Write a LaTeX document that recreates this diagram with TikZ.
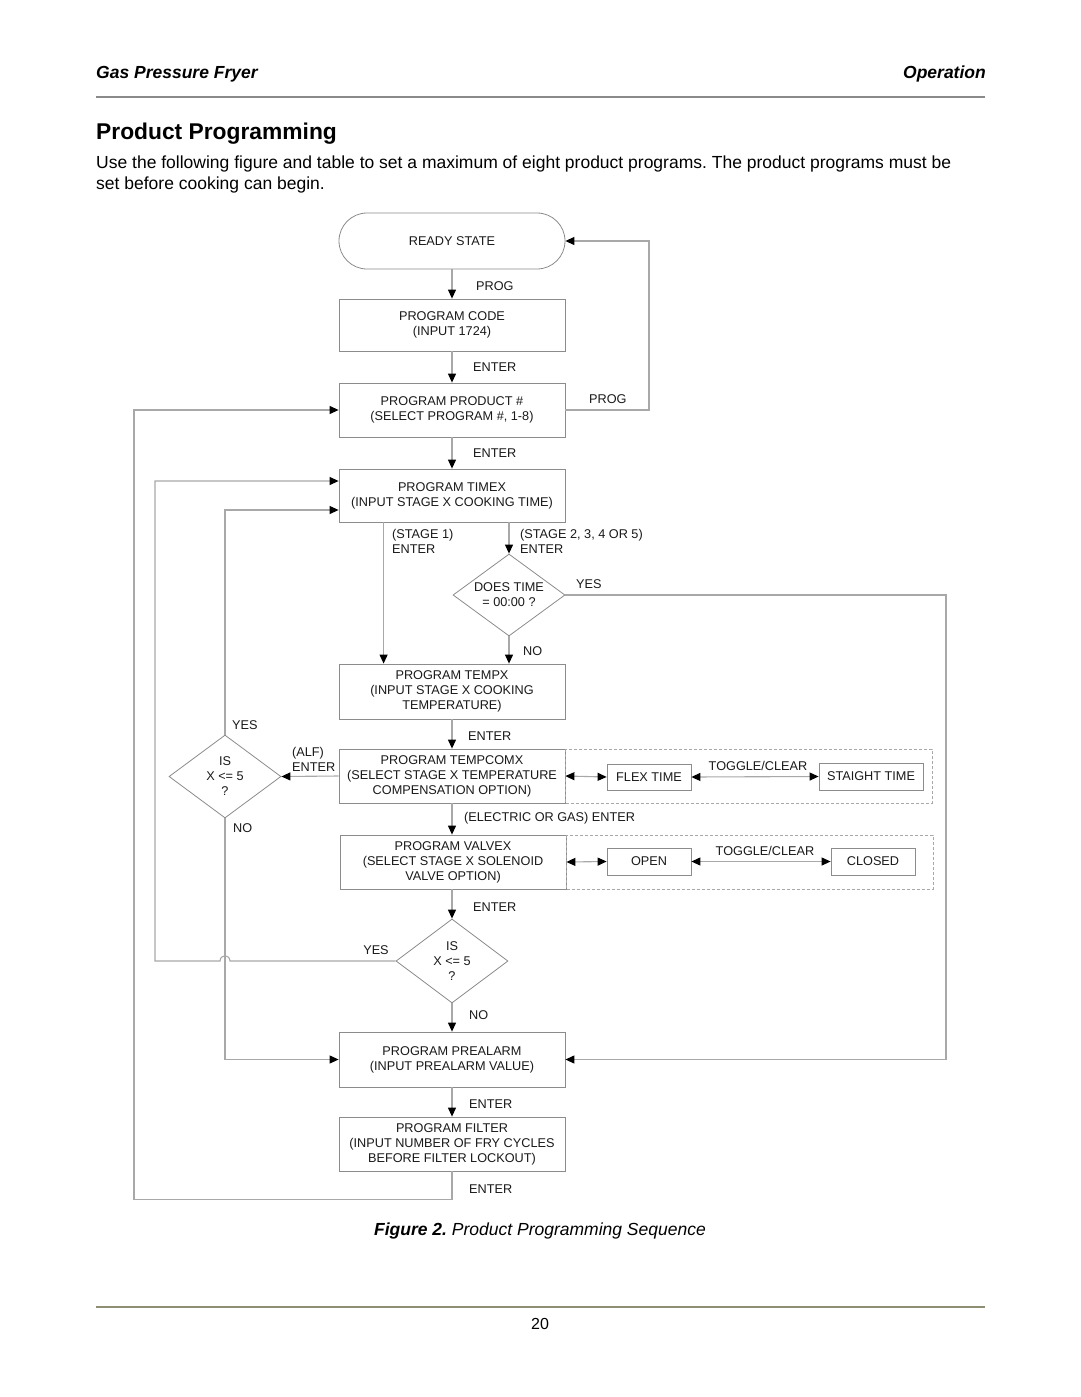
\documentclass[tikz,border=0pt]{standalone}
\usepackage{fontspec}
\setmainfont{Liberation Sans}
\usetikzlibrary{arrows.meta,shapes.geometric,calc}
\definecolor{ln}{HTML}{A8A8A8}
\definecolor{boxgray}{HTML}{8C8C8C}
\definecolor{txt}{HTML}{1A1A1A}
\definecolor{rulegray}{HTML}{8A8A8A}
\definecolor{ruleolive}{HTML}{8E8E72}
\newcommand\flowfont{\fontsize{12.7}{15}\selectfont}
\frenchspacing
\begin{document}
\begin{tikzpicture}[x=1pt,y=-1pt,
  box/.style={draw=boxgray,line width=0.8pt,minimum width=226pt,inner sep=0pt,align=center,font=\flowfont,text=txt},
  smallbox/.style={draw=boxgray,line width=0.8pt,inner sep=0pt,align=center,font=\flowfont,text=txt},
  decision/.style={diamond,draw=boxgray,line width=0.8pt,minimum width=112pt,inner sep=0pt,aspect=1.37,align=center,font=\flowfont,text=txt},
  lbl/.style={font=\flowfont,text=txt,inner sep=0pt,anchor=west,align=left},
  lblc/.style={font=\flowfont,text=txt,inner sep=0pt,align=center},
  conn/.style={draw=ln,line width=1.1pt},
  arr/.style={conn,-{Triangle[length=9pt,width=8pt,color=black]}},
  darr/.style={conn,{Triangle[length=9pt,width=8pt,color=black]}-{Triangle[length=9pt,width=8pt,color=black]}},
  dashbox/.style={draw=ln,line width=0.7pt,dash pattern=on 3pt off 2pt}
]
\useasboundingbox (0,0) rectangle (1080,1397);
\fill[white] (0,0) rectangle (1080,1397);

% header
\node[anchor=west,inner sep=0pt,font=\fontsize{17.5}{20}\selectfont\bfseries\itshape,text=black] (hleft) at (96,74) {Gas Pressure Fryer};
\node[anchor=east,inner sep=0pt,font=\fontsize{17.5}{20}\selectfont\bfseries\itshape,text=black] (hright) at (986,74) {Operation};
\draw[rulegray,line width=2.5pt] (96,97) -- (985,97);
\node[anchor=west,inner sep=0pt,font=\fontsize{22.8}{26}\selectfont\bfseries,text=black] (title) at (96,134) {Product Programming};
\node[anchor=base west,inner sep=0pt,font=\fontsize{17.5}{21}\selectfont,text=black] (body1) at (96,168) {Use the following figure and table to set a maximum of eight product programs. The product programs must be};
\node[anchor=base west,inner sep=0pt,font=\fontsize{17.5}{21}\selectfont,text=black] (body2) at (96,189) {set before cooking can begin.};

% main boxes
\node[box,rounded corners=28pt,minimum height=56pt] (ready) at (452,241) {READY STATE};
\node[box,minimum height=52pt] (code) at (452,325) {PROGRAM CODE\\(INPUT 1724)};
\node[box,minimum height=54pt] (product) at (452,410) {PROGRAM PRODUCT \#\\(SELECT PROGRAM \#, 1-8)};
\node[box,minimum height=53pt] (timex) at (452,495.5) {PROGRAM TIMEX\\(INPUT STAGE X COOKING TIME)};
\node[decision,minimum height=82pt] (dt) at (509,595) {DOES TIME\\= 00:00 ?};
\node[box,minimum height=55pt] (tempx) at (452,691.5) {PROGRAM TEMPX\\(INPUT STAGE X COOKING\\TEMPERATURE)};
\node[box,minimum height=54pt] (tempcomx) at (452,776) {PROGRAM TEMPCOMX\\(SELECT STAGE X TEMPERATURE\\COMPENSATION OPTION)};
\node[decision,minimum height=83pt] (isa) at (225,776.5) {IS\\X <= 5\\?};
\node[box,minimum height=54pt] (valvex) at (453,862) {PROGRAM VALVEX\\(SELECT STAGE X SOLENOID\\VALVE OPTION)};
\node[decision,minimum height=84pt] (isb) at (452,961) {IS\\X <= 5\\?};
\node[box,minimum height=55pt] (prealarm) at (452,1059.5) {PROGRAM PREALARM\\(INPUT PREALARM VALUE)};
\node[box,minimum height=54pt] (filter) at (452,1144) {PROGRAM FILTER\\(INPUT NUMBER OF FRY CYCLES\\BEFORE FILTER LOCKOUT)};

% option areas
\draw[dashbox] (565,749) rectangle (932,803);
\draw[dashbox] (566,835) rectangle (933,889);
\node[smallbox,minimum width=84pt,minimum height=26pt] (flex) at (649,777) {FLEX TIME};
\node[smallbox,minimum width=104pt,minimum height=27pt] (straight) at (871,776.5) {STAIGHT TIME};
\node[smallbox,minimum width=84pt,minimum height=27pt] (open) at (649,861.5) {OPEN};
\node[smallbox,minimum width=84pt,minimum height=27pt] (closed) at (873,861.5) {CLOSED};

% connectors
\draw[arr] (ready.south) -- (code.north);
\draw[arr] (code.south) -- (product.north);
\draw[arr] (product.east) -- (649,410) |- (ready.east);
\draw[arr] (product.south) -- (timex.north);
\draw[arr] ([xshift=45pt]timex.south west) -- ([xshift=45pt]tempx.north west);
\draw[arr] (dt.north |- timex.south) -- (dt.north);
\draw[arr] (dt.south) -- (dt.south |- tempx.north);
\draw[arr] (dt.east) -- (946,595) |- (prealarm.east);
\draw[arr] (tempx.south) -- (tempcomx.north);
\draw[arr] (tempcomx.west) -- (isa.east);
\draw[arr] (isa.north) |- ([yshift=-14.5pt]timex.west);
\draw[arr] (isa.south) |- (prealarm.west);
\draw[arr] (tempcomx.south) -- (tempcomx.south |- valvex.north);
\draw[arr] (valvex.south -| isb.north) -- (isb.north);
\draw[arr] (isb.west) -- (230,961) .. controls (229.5,954) and (220.5,954) .. (220,961) -- (155,961) |- ([yshift=14.5pt]timex.west);
\draw[arr] (isb.south) -- (prealarm.north);
\draw[arr] (prealarm.south) -- (filter.north);
\draw[arr] (filter.south) -- ++(0,28) -- ++(-318,0) |- (product.west);
\draw[darr] (tempcomx.east) -- (flex.west);
\draw[darr] (flex.east) -- (straight.west);
\draw[darr] (valvex.east) -- (open.west);
\draw[darr] (open.east) -- (closed.west);

% labels
\node[lbl] (lprog1) at (476,286) {PROG};
\node[lbl] (lent1) at (473,367) {ENTER};
\node[lbl] (lprog2) at (589,399) {PROG};
\node[lbl] (lent2) at (473,453) {ENTER};
\node[lbl] (lst1) at (392,541.5) {(STAGE 1)\\ENTER};
\node[lbl] (lst2) at (520,541.5) {(STAGE 2, 3, 4 OR 5)\\ENTER};
\node[lbl] (lyes1) at (576,584) {YES};
\node[lbl] (lno1) at (523,651) {NO};
\node[lbl] (lent3) at (468,736) {ENTER};
\node[lbl] (lalf) at (292,759) {(ALF)\\ENTER};
\node[lbl] (lyes2) at (232,725) {YES};
\node[lbl] (lno2) at (233,828) {NO};
\node[lblc] (ltog1) at (758,766) {TOGGLE/CLEAR};
\node[lbl] (lelec) at (464,818) {(ELECTRIC OR GAS) ENTER};
\node[lblc] (ltog2) at (765,851) {TOGGLE/CLEAR};
\node[lbl] (lent4) at (473,907) {ENTER};
\node[lblc] (lyes3) at (376,950) {YES};
\node[lbl] (lno3) at (469,1015) {NO};
\node[lbl] (lent5) at (469,1104) {ENTER};
\node[lbl] (lent6) at (469,1189) {ENTER};

% caption and footer
\node[inner sep=0pt,font=\fontsize{17.5}{20}\selectfont\itshape,text=black] (caption) at (540,1231) {\textbf{Figure 2.} Product Programming Sequence};
\draw[ruleolive,line width=2.5pt] (96,1307) -- (985,1307);
\node[inner sep=0pt,font=\fontsize{16}{20}\selectfont,text=black] (pagenum) at (540,1324) {20};
\end{tikzpicture}
\end{document}
